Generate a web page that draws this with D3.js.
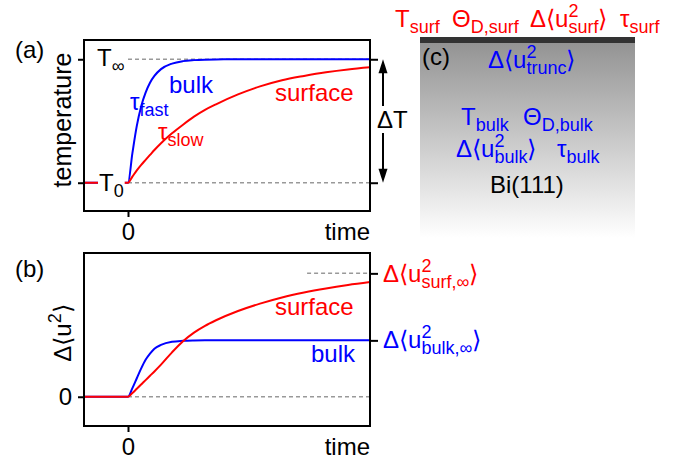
<!DOCTYPE html>
<html>
<head>
<meta charset="utf-8">
<script src="https://cdn.jsdelivr.net/npm/d3@7"></script>
<style>
  body { margin: 0; background: #fff; }
  svg { display: block; font-family: "Liberation Sans", Arial, Helvetica, sans-serif; }
</style>
</head>
<body>
<script>
var width = 677, height = 459;
var RED = "#ff0000", BLUE = "#0000ff";

// time axis (arbitrary units, 0 = excitation)
var time = [-1, 0, 0.1, 0.2, 0.3, 0.4, 0.5, 0.6, 0.75, 1, 1.25, 1.5, 1.75, 2, 2.5, 3, 3.5, 4, 4.5, 5, 5.5];

// (a) temperature, 0 = T0, 1 = Tinf
var tempBulk = [0, 0, 0.24, 0.46, 0.62, 0.73, 0.81, 0.865, 0.92, 0.965, 0.985, 0.993, 0.997, 0.999, 1, 1, 1, 1, 1, 1, 1];
var tempSurf = [0, 0, 0.05, 0.1, 0.145, 0.185, 0.225, 0.265, 0.32, 0.4, 0.47, 0.535, 0.59, 0.635, 0.715, 0.78, 0.83, 0.865, 0.895, 0.918, 0.935];
var tempTicks = [0, 1];

// (b) mean square displacement, 1 = surface limit
var msdBulk = [0, 0, 0.07, 0.15, 0.23, 0.3, 0.35, 0.39, 0.42, 0.445, 0.453, 0.456, 0.457, 0.457, 0.457, 0.457, 0.457, 0.457, 0.457, 0.457, 0.457];
var msdSurf = [0, 0, 0.03, 0.065, 0.1, 0.135, 0.17, 0.205, 0.26, 0.36, 0.45, 0.52, 0.575, 0.62, 0.695, 0.755, 0.805, 0.845, 0.878, 0.906, 0.93];
var msdLimits = [1, 0.457];
var surfDashFrom = 4.07;

var svg = d3.select("body").append("svg")
  .attr("width", width)
  .attr("height", height);

// text with sub/superscripts, parts: strings or {sub}, {sup}, {sup, sub}
var SUB = 6, SUP = -10;
function rich(g, x, y, parts, o) {
  o = o || {};
  var t = g.append("text").attr("x", x).attr("y", y)
    .attr("font-size", o.size || 24)
    .attr("fill", o.color || "#000")
    .attr("text-anchor", o.anchor || "start");
  if (o.rotate) t.attr("transform", "rotate(" + o.rotate + "," + x + "," + y + ")");
  var base = 0, pad = 0;
  parts.forEach(function(p) {
    if (typeof p === "string") {
      t.append("tspan").attr("dx", pad).attr("dy", -base).text(p);
      base = 0;
    } else if (p.sup && p.sub) {
      var a = t.append("tspan").attr("dx", pad).attr("dy", SUP - base).attr("font-size", 18).text(p.sup);
      var wa = a.node().getComputedTextLength();
      var b = t.append("tspan").attr("dx", -wa).attr("dy", SUB - SUP).attr("font-size", 18).text(p.sub);
      var wb = b.node().getComputedTextLength();
      base = SUB;
      pad = Math.max(0, wa - wb);
      return;
    } else if (p.sup) {
      t.append("tspan").attr("dx", pad).attr("dy", SUP - base).attr("font-size", 18).text(p.sup);
      base = SUP;
    } else {
      t.append("tspan").attr("dx", pad).attr("dy", SUB - base).attr("font-size", 18).text(p.sub);
      base = SUB;
    }
    pad = 0;
  });
  return t;
}

function whiteBehind(g, t, padX) {
  var bb = t.node().getBBox();
  g.insert("rect", function() { return t.node(); })
    .attr("x", bb.x - padX).attr("y", bb.y)
    .attr("width", bb.width + 2 * padX).attr("height", bb.height)
    .attr("fill", "#fff");
}

var x = d3.scaleLinear().domain([-1, 5.5]).range([84, 370]);

function dashed(g, yScale, v, from) {
  g.append("line")
    .attr("x1", x(from)).attr("x2", x(5.5))
    .attr("y1", yScale(v)).attr("y2", yScale(v))
    .attr("stroke", "#999").attr("stroke-width", 1.5)
    .attr("stroke-dasharray", "4,3");
}

function curves(g, yScale, bulk, surf) {
  var line = d3.line()
    .x(function(d, i) { return x(time[i]); })
    .y(function(d) { return yScale(d); })
    .curve(d3.curveMonotoneX);
  g.append("path").attr("d", line(bulk)).attr("fill", "none").attr("stroke", BLUE).attr("stroke-width", 2);
  g.append("path").attr("d", line(surf)).attr("fill", "none").attr("stroke", RED).attr("stroke-width", 2);
}

function frame(g, yScale, leftTicks, rightTicks, leftLabels) {
  var r = yScale.range();
  g.append("rect")
    .attr("x", x.range()[0]).attr("y", r[1])
    .attr("width", x.range()[1] - x.range()[0]).attr("height", r[0] - r[1])
    .attr("fill", "none").attr("stroke", "#000").attr("stroke-width", 2);

  var bottom = g.append("g").attr("transform", "translate(0," + r[0] + ")")
    .call(d3.axisBottom(x).tickValues([0]).tickSize(6).tickPadding(6).tickFormat(d3.format("d")));
  var left = g.append("g").attr("transform", "translate(" + x.range()[0] + ",0)")
    .call(d3.axisLeft(yScale).tickValues(leftTicks).tickSize(6).tickPadding(6)
      .tickFormat(leftLabels ? d3.format("d") : ""));
  var right = g.append("g").attr("transform", "translate(" + x.range()[1] + ",0)")
    .call(d3.axisRight(yScale).tickValues(rightTicks).tickSize(8).tickFormat(""));
  [bottom, left, right].forEach(function(a) {
    a.select(".domain").remove();
    a.selectAll("line").attr("stroke-width", 2);
    a.selectAll("text").attr("font-size", 24).attr("font-family", null).attr("fill", "#000");
  });

  g.append("text")
    .attr("x", x.range()[1]).attr("y", r[0] + 29)
    .attr("text-anchor", "end").attr("font-size", 24)
    .text("time");
}

// ---------- (a) ----------
var yA = d3.scaleLinear().domain([-0.229, 1.156]).range([211, 40]);
var ga = svg.append("g");
tempTicks.forEach(function(v) { dashed(ga, yA, v, 0); });
curves(ga, yA, tempBulk, tempSurf);
frame(ga, yA, tempTicks, tempTicks, false);

rich(ga, 97, yA(1) + 7, ["T", {sub: "\u221e"}]);
var t0 = rich(ga, 99, yA(0) + 8.5, ["T", {sub: "0"}]);
whiteBehind(ga, t0, 1);

rich(ga, 169, 93, ["bulk"], {color: BLUE});
rich(ga, 130, 110, ["\u03c4", {sub: "fast"}], {color: BLUE});
rich(ga, 275, 101, ["surface"], {color: RED});
rich(ga, 158, 140, ["\u03c4", {sub: "slow"}], {color: RED});

rich(ga, 15, 58, ["(a)"]);
rich(ga, 71, 120, ["temperature"], {anchor: "middle", rotate: -90, size: 25});

// delta T arrow
var ax = x.range()[1] + 13;
ga.append("line")
  .attr("x1", ax).attr("x2", ax)
  .attr("y1", yA(1) + 10).attr("y2", yA(0) - 10)
  .attr("stroke", "#000").attr("stroke-width", 2);
[[yA(1), 1], [yA(0), -1]].forEach(function(a) {
  ga.append("path")
    .attr("d", "M" + ax + "," + a[0] + "L" + (ax - 4.5) + "," + (a[0] + 14 * a[1]) + "L" + (ax + 4.5) + "," + (a[0] + 14 * a[1]) + "Z")
    .attr("fill", "#000");
});
var dT = rich(ga, 377, 128, ["\u0394T"]);
whiteBehind(ga, dT, 0);

// ---------- (b) ----------
var yB = d3.scaleLinear().domain([-0.237, 1.165]).range([426, 253]);
var gb = svg.append("g");
dashed(gb, yB, 0, 0);
dashed(gb, yB, msdLimits[0], surfDashFrom);
curves(gb, yB, msdBulk, msdSurf);
frame(gb, yB, [0], msdLimits, true);

rich(gb, 275, 315, ["surface"], {color: RED});
rich(gb, 311, 362, ["bulk"], {color: BLUE});
rich(gb, 15, 277, ["(b)"]);
rich(gb, 71, 333, ["\u0394\u27e8u", {sup: "2"}, "\u27e9"], {anchor: "middle", rotate: -90});

rich(gb, 383, yB(msdLimits[0]) + 8.5, ["\u0394\u27e8u", {sup: "2", sub: "surf,\u221e"}, "\u27e9"], {color: RED});
rich(gb, 383, yB(msdLimits[1]) + 7.5, ["\u0394\u27e8u", {sup: "2", sub: "bulk,\u221e"}, "\u27e9"], {color: BLUE});

// ---------- (c) ----------
var gc = svg.append("g");
var grad = svg.append("defs").append("linearGradient")
  .attr("id", "fade").attr("x1", 0).attr("x2", 0).attr("y1", 0).attr("y2", 1);
grad.append("stop").attr("offset", 0).attr("stop-color", "#929292");
grad.append("stop").attr("offset", 1).attr("stop-color", "#ffffff");
gc.append("rect").attr("x", 420).attr("y", 40).attr("width", 215).attr("height", 198).attr("fill", "url(#fade)");
gc.append("rect").attr("x", 420).attr("y", 37).attr("width", 215).attr("height", 6).attr("fill", "#333");

rich(gc, 395, 27, ["T", {sub: "surf"}], {color: RED});
rich(gc, 452, 27, ["\u0398", {sub: "D,surf"}], {color: RED});
rich(gc, 530, 27, ["\u0394\u27e8u", {sup: "2", sub: "surf"}, "\u27e9"], {color: RED});
rich(gc, 620, 27, ["\u03c4", {sub: "surf"}], {color: RED});

rich(gc, 422, 65, ["(c)"]);
rich(gc, 488, 68, ["\u0394\u27e8u", {sup: "2", sub: "trunc"}, "\u27e9"], {color: BLUE});
rich(gc, 461, 125, ["T", {sub: "bulk"}], {color: BLUE});
rich(gc, 523, 125, ["\u0398", {sub: "D,bulk"}], {color: BLUE});
rich(gc, 456, 157, ["\u0394\u27e8u", {sup: "2", sub: "bulk"}, "\u27e9"], {color: BLUE});
rich(gc, 557, 157, ["\u03c4", {sub: "bulk"}], {color: BLUE});
rich(gc, 490, 193, ["Bi(111)"]);
</script>
</body>
</html>
